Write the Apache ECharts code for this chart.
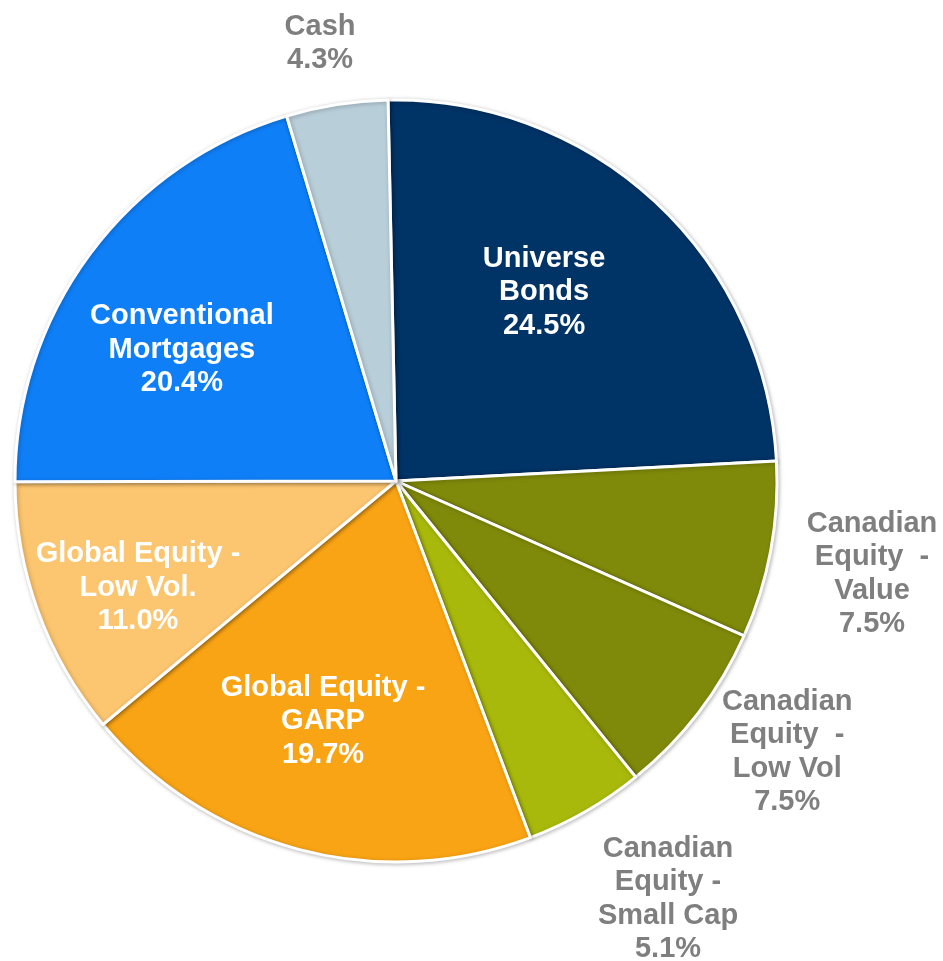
<!DOCTYPE html>
<html>
<head>
<meta charset="utf-8">
<script src="https://cdn.jsdelivr.net/npm/echarts@6/dist/echarts.min.js"></script>
<style>html,body{margin:0;padding:0;background:#fff}#c{width:943px;height:961px}</style>
</head>
<body>
<div id="c"></div>
<script>
const categories = [
  "Universe\nBonds",
  "Canadian\nEquity  -\nValue",
  "Canadian\nEquity  -\nLow Vol",
  "Canadian\nEquity -\nSmall Cap",
  "Global Equity -\nGARP",
  "Global Equity -\nLow Vol.",
  "Conventional\nMortgages",
  "Cash"
];
const values = [24.5, 7.5, 7.5, 5.1, 19.7, 11.0, 20.4, 4.3];
const colors = ["#003366", "#808a0a", "#808a0a", "#a9b90b", "#f9a414", "#fcc56f", "#0f7ff8", "#b8ced9"];
const labelColors = ["#fff", "#7f7f7f", "#7f7f7f", "#7f7f7f", "#fff", "#fff", "#fff", "#7f7f7f"];
// label placement (polar: angle in degrees counter-clockwise from 3 o'clock, radius as fraction of pie radius)
const labelAngle = [51.9, -11.05, -34.7, -56.95, 253.1, 202.5, 148.5, 99.85];
const labelRadius = [0.630, 1.273, 1.249, 1.309, 0.659, 0.733, 0.659, 1.165];

const CX = 396, CY = 481, R = 381;
const chart = echarts.init(document.getElementById('c'));
chart.setOption({
  animation: false,
  series: [{
    type: 'pie',
    center: [CX, CY],
    radius: [0, R],
    startAngle: 91.2,
    clockwise: true,
    avoidLabelOverlap: false,
    itemStyle: { borderColor: '#fff', borderWidth: 3, shadowBlur: 4, shadowColor: 'rgba(0,0,0,0.25)', shadowOffsetX: 1, shadowOffsetY: 1 },
    label: {
      show: true,
      position: 'inside',
      fontFamily: 'Liberation Sans, Arial, sans-serif',
      fontWeight: 'bold',
      fontSize: 29,
      lineHeight: 33.5,
      align: 'center',
      formatter: p => p.name + '\n' + p.value.toFixed(1) + '%'
    },
    labelLine: { show: false },
    labelLayout: function (p) {
      const r = p.labelRect;
      const lx = r.x + r.width / 2, ly = r.y + r.height / 2;
      const a = labelAngle[p.dataIndex] * Math.PI / 180;
      const t = labelRadius[p.dataIndex] * R;
      const tx = CX + t * Math.cos(a), ty = CY - t * Math.sin(a);
      return { dx: tx - lx, dy: ty - ly };
    },
    data: categories.map((n, i) => ({
      name: n,
      value: values[i],
      itemStyle: { color: colors[i] },
      label: { color: labelColors[i] }
    }))
  }]
});
</script>
</body>
</html>
